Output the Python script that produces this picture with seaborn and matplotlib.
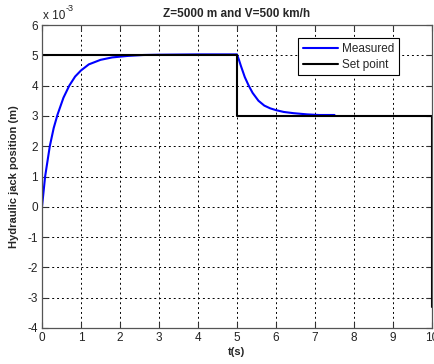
import matplotlib
matplotlib.use("Agg")
import matplotlib.pyplot as plt
import seaborn as sns
import pandas as pd
from matplotlib.ticker import MultipleLocator

# Data (values in units of 1e-3 m)
t_measured = [0.0, 0.04, 0.08, 0.14, 0.2, 0.3, 0.4, 0.55, 0.7, 0.85, 1.0, 1.2, 1.5, 1.8, 2.2, 2.6, 3.0, 4.0, 5.0,
              5.05, 5.1, 5.2, 5.3, 5.4, 5.55, 5.7, 5.85, 6.0, 6.2, 6.45, 6.8, 7.1, 7.5]
y_measured = [0.0, 0.5, 1.0, 1.5, 2.0, 2.6, 3.05, 3.6, 4.0, 4.3, 4.5, 4.7, 4.85, 4.93, 4.98, 5.01, 5.02, 5.03, 5.03,
              4.85, 4.65, 4.28, 4.0, 3.76, 3.5, 3.34, 3.25, 3.19, 3.13, 3.09, 3.05, 3.03, 3.03]
t_setpoint = [0.0, 5.0, 5.0, 10.0, 10.0]
y_setpoint = [5.0, 5.0, 3.0, 3.0, -3.3]
x_ticks = list(range(0, 11))
y_ticks = list(range(-4, 7))

scale = 1e-3
df_m = pd.DataFrame({"t": t_measured, "y": [v * scale for v in y_measured]})
df_s = pd.DataFrame({"t": t_setpoint, "y": [v * scale for v in y_setpoint]})

sns.set_style("white")
plt.rcParams["font.family"] = ["Liberation Sans", "DejaVu Sans"]

fig = plt.figure(figsize=(4.35, 3.64), dpi=100)
ax = fig.add_axes([42 / 435, 36 / 364, 390 / 435, 303 / 364])

sns.lineplot(data=df_m, x="t", y="y", ax=ax, color="#0000ff", linewidth=1.5,
             label="Measured", sort=False, estimator=None)
sns.lineplot(data=df_s, x="t", y="y", ax=ax, color="black", linewidth=1.5,
             label="Set point", sort=False, estimator=None)

ax.set_xlim(0, 10)
ax.set_ylim(-4e-3, 6e-3)
ax.set_xticks(x_ticks)
ax.set_xticklabels([str(i) for i in x_ticks])
ax.set_yticks([i * scale for i in y_ticks])
ax.set_yticklabels([str(i) for i in y_ticks])

ax.grid(True, color="black", linestyle=(0, (2, 3)), linewidth=0.7)
ax.tick_params(direction="in", length=4, labelsize=8.5, top=True, right=True,
               bottom=True, left=True, color="#333333", labelcolor="#222222", pad=3)
for s in ax.spines.values():
    s.set_color("#555555")
    s.set_linewidth(0.9)

ax.set_xlabel("t(s)", fontsize=8, fontweight="bold", labelpad=2)
ax.set_ylabel("Hydraulic jack position (m)", fontsize=8, fontweight="bold", labelpad=6)
ax.set_title("Z=5000 m and V=500 km/h", fontsize=8.5, fontweight="bold", pad=6)

fig.text(43 / 435, 1 - 19 / 364, "x 10", fontsize=8.5, color="#222222", va="baseline")
fig.text(66 / 435, 1 - 11 / 364, "-3", fontsize=6.5, color="#222222", va="baseline")

leg = ax.legend(loc="upper right", bbox_to_anchor=(0.93, 0.975), fontsize=8.5, frameon=True,
                fancybox=False, edgecolor="black", framealpha=1, borderpad=0.4,
                handlelength=3.0, handletextpad=0.3, labelspacing=0.3)
leg.get_frame().set_linewidth(0.8)

fig.savefig("out.png", dpi=100)
